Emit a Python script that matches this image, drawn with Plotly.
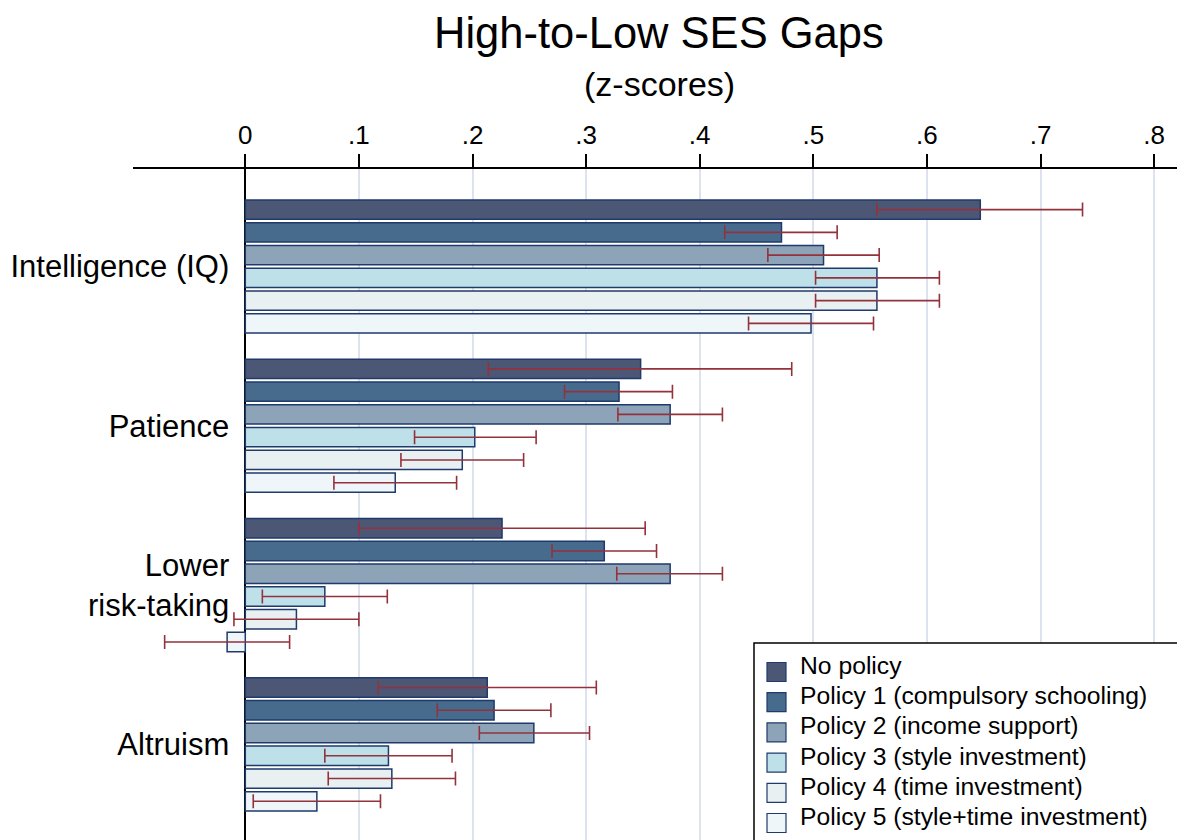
import plotly.graph_objects as go

# Outcomes (rows of the chart, top to bottom)
outcomes = ["Intelligence (IQ)", "Patience", "Lower<br>risk-taking", "Altruism"]

# Scenario names
scenarios = [
    "No policy",
    "Policy 1 (compulsory schooling)",
    "Policy 2 (income support)",
    "Policy 3 (style investment)",
    "Policy 4 (time investment)",
    "Policy 5 (style+time investment)",
]

# High-to-low SES gap estimates (z-scores), one list per scenario, in outcome order
gap_no_policy = [0.647, 0.348, 0.226, 0.213]
gap_policy1 = [0.472, 0.329, 0.316, 0.219]
gap_policy2 = [0.509, 0.374, 0.374, 0.254]
gap_policy3 = [0.556, 0.202, 0.070, 0.126]
gap_policy4 = [0.556, 0.191, 0.045, 0.129]
gap_policy5 = [0.498, 0.132, -0.016, 0.063]

# Lower and upper bounds of the confidence intervals
ci_low_no_policy = [0.556, 0.214, 0.100, 0.117]
ci_high_no_policy = [0.737, 0.481, 0.352, 0.309]
ci_low_policy1 = [0.422, 0.281, 0.270, 0.169]
ci_high_policy1 = [0.521, 0.376, 0.362, 0.269]
ci_low_policy2 = [0.460, 0.328, 0.327, 0.206]
ci_high_policy2 = [0.558, 0.420, 0.420, 0.303]
ci_low_policy3 = [0.502, 0.149, 0.015, 0.070]
ci_high_policy3 = [0.611, 0.256, 0.125, 0.182]
ci_low_policy4 = [0.502, 0.137, -0.010, 0.073]
ci_high_policy4 = [0.611, 0.245, 0.100, 0.185]
ci_low_policy5 = [0.443, 0.078, -0.071, 0.007]
ci_high_policy5 = [0.553, 0.186, 0.039, 0.119]

# Axis ticks
tick_values = [0, 0.1, 0.2, 0.3, 0.4, 0.5, 0.6, 0.7, 0.8]
tick_labels = ["0", ".1", ".2", ".3", ".4", ".5", ".6", ".7", ".8"]

gaps = [gap_no_policy, gap_policy1, gap_policy2, gap_policy3, gap_policy4, gap_policy5]
ci_lows = [ci_low_no_policy, ci_low_policy1, ci_low_policy2,
           ci_low_policy3, ci_low_policy4, ci_low_policy5]
ci_highs = [ci_high_no_policy, ci_high_policy1, ci_high_policy2,
            ci_high_policy3, ci_high_policy4, ci_high_policy5]

fills = ["#4c5776", "#476b8d", "#8da4b8", "#bee0e9", "#e9f0f2", "#eff6f9"]
edge = "#1f3a6b"
ci_color = "#93323c"
FONT = "Liberation Sans, Arial, sans-serif"

W, H = 1177, 840
ML, MT = 133, 169
PW, PH = W - ML, H - MT


def px_x(p):
    return (p - ML) / PW


def px_y(p):
    return (H - p) / PH


fig = go.Figure()
for name, vals, lo, hi, col in zip(scenarios, gaps, ci_lows, ci_highs, fills):
    fig.add_trace(go.Bar(
        name=name,
        y=outcomes,
        x=vals,
        orientation="h",
        marker=dict(color=col, line=dict(color=edge, width=1.5)),
        error_x=dict(
            type="data",
            symmetric=False,
            array=[h - v for h, v in zip(hi, vals)],
            arrayminus=[v - l for v, l in zip(vals, lo)],
            color=ci_color,
            thickness=1.6,
            width=7,
        ),
        showlegend=False,
    ))

# Legend drawn as a framed box with swatches
shapes = [dict(type="rect", xref="paper", yref="paper",
               x0=px_x(754), x1=px_x(1190), y0=px_y(643), y1=px_y(860),
               line=dict(color="black", width=1.5), fillcolor="white", layer="above")]
annotations = []
for i, (name, col) in enumerate(zip(scenarios, fills)):
    cy = 672 + i * 30.2
    shapes.append(dict(type="rect", xref="paper", yref="paper",
                       x0=px_x(767), x1=px_x(786), y0=px_y(cy - 9.5), y1=px_y(cy + 9.5),
                       line=dict(color=edge, width=1.2), fillcolor=col, layer="above"))
    annotations.append(dict(text=name, xref="paper", yref="paper",
                            x=px_x(798), y=px_y(cy - 6.5), xanchor="left", yanchor="middle",
                            showarrow=False, font=dict(family=FONT, size=24.7, color="black")))

annotations.append(dict(text="High-to-Low SES Gaps", xref="paper", yref="paper",
                        x=px_x(659), y=px_y(33), xanchor="center", yanchor="middle",
                        showarrow=False, font=dict(family=FONT, size=43.5, color="black")))
annotations.append(dict(text="(z-scores)", xref="paper", yref="paper",
                        x=px_x(659), y=px_y(84), xanchor="center", yanchor="middle",
                        showarrow=False, font=dict(family=FONT, size=34, color="black")))

fig.update_layout(
    width=W, height=H,
    margin=dict(l=ML, r=0, t=MT, b=0),
    paper_bgcolor="white",
    plot_bgcolor="white",
    barmode="group",
    bargap=1 / 7,
    bargroupgap=0.15,
    font=dict(family=FONT, color="black"),
    shapes=shapes,
    annotations=annotations,
    xaxis=dict(
        side="top",
        range=[(ML - 245.3) / 1136, (W - 245.3) / 1136],
        tickvals=tick_values,
        ticktext=tick_labels,
        ticks="outside",
        ticklen=13,
        tickwidth=2,
        tickcolor="black",
        tickfont=dict(family=FONT, size=26, color="black"),
        showline=True,
        linecolor="black",
        linewidth=2,
        showgrid=True,
        gridcolor="#dde3ee",
        gridwidth=2,
        zeroline=True,
        zerolinecolor="black",
        zerolinewidth=2,
    ),
    yaxis=dict(
        type="category",
        range=[3.600, -0.612],
        anchor="free",
        position=px_x(245.3),
        showgrid=False,
        showline=False,
        ticks="",
        ticklabelstandoff=16,
        tickfont=dict(family=FONT, size=31, color="black"),
    ),
)

fig.write_html("out.html")
